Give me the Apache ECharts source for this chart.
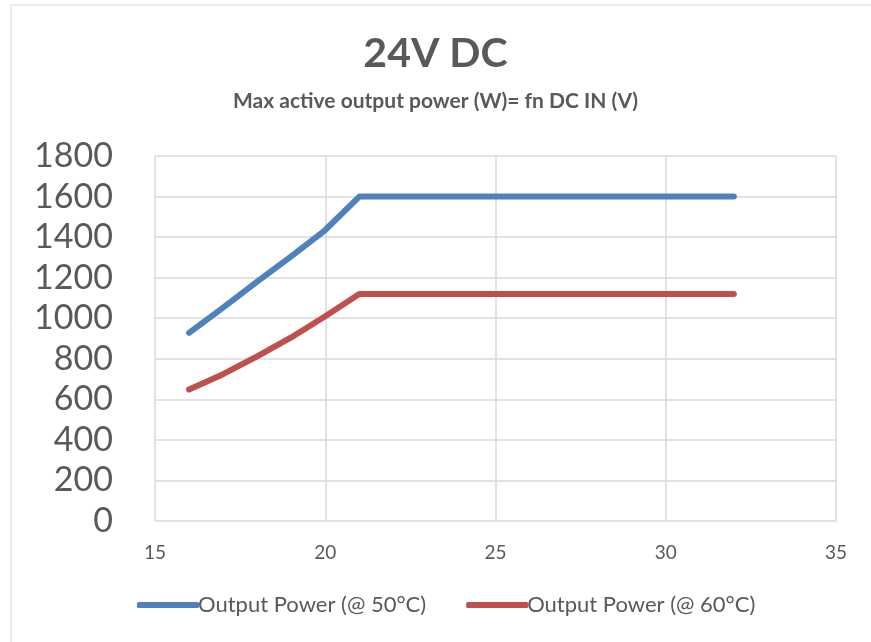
<!DOCTYPE html>
<html>
<head>
<meta charset="utf-8">
<script src="https://cdn.jsdelivr.net/npm/echarts@6/dist/echarts.min.js"></script>
<style>
  html, body { margin: 0; padding: 0; background: #fff; }
  #chart { width: 871px; height: 642px; }
</style>
</head>
<body>
<div id="chart"></div>
<script>
const voltage = [16, 17, 18, 19, 20, 21, 32];
const power50 = [928, 1052, 1180, 1305, 1435, 1600, 1600];
const power60 = [648, 724, 812, 905, 1010, 1120, 1120];
const seriesNames = ["Output Power (@ 50°C)", "Output Power (@ 60°C)"];

const font = "Lato, 'Open Sans', sans-serif";
const toPairs = (xs, ys) => xs.map((x, i) => [x, ys[i]]);

const chart = echarts.init(document.getElementById("chart"));
chart.setOption({
  animation: false,
  textStyle: { fontFamily: font },
  title: {
    text: "24V DC",
    subtext: "Max active output power (W)= fn DC IN (V)",
    left: "center",
    top: 28,
    itemGap: 17,
    textStyle: { fontSize: 41, fontWeight: "bold", color: "#595959", fontFamily: font },
    subtextStyle: { fontSize: 21, fontWeight: "bold", color: "#595959", fontFamily: font },
  },
  graphic: [
    {
      type: "polyline",
      shape: { points: [[11, 642], [11, 5], [871, 5]] },
      style: { stroke: "#d9d9d9", lineWidth: 1, fill: null },
    },
  ],
  legend: {
    bottom: 21,
    left: 132,
    itemWidth: 62,
    itemHeight: 6,
    itemGap: 40,
    icon: "roundRect",
    textStyle: { fontSize: 22, color: "#595959", padding: [0, 0, 0, -6] },
    data: seriesNames,
  },
  grid: { left: 155, right: 35, top: 156, bottom: 121, containLabel: false },
  xAxis: {
    type: "value",
    min: 15,
    max: 35,
    interval: 5,
    axisLine: { show: false },
    axisTick: { show: false },
    axisLabel: { fontSize: 19, color: "#595959", margin: 22 },
    splitLine: { lineStyle: { color: "#d9d9d9", width: 1.5 } },
  },
  yAxis: {
    type: "value",
    min: 0,
    max: 1800,
    interval: 200,
    axisLine: { show: false },
    axisTick: { show: false },
    axisLabel: { fontSize: 34, color: "#595959", margin: 42, formatter: (v) => String(v) },
    splitLine: { lineStyle: { color: "#d9d9d9", width: 1.5 } },
  },
  series: [
    {
      name: seriesNames[0],
      type: "line",
      data: toPairs(voltage, power50),
      showSymbol: false,
      lineStyle: { color: "#4F81BD", width: 6, cap: "round", join: "round" },
      itemStyle: { color: "#4F81BD" },
    },
    {
      name: seriesNames[1],
      type: "line",
      data: toPairs(voltage, power60),
      showSymbol: false,
      lineStyle: { color: "#C0504D", width: 6, cap: "round", join: "round" },
      itemStyle: { color: "#C0504D" },
    },
  ],
});
</script>
</body>
</html>
